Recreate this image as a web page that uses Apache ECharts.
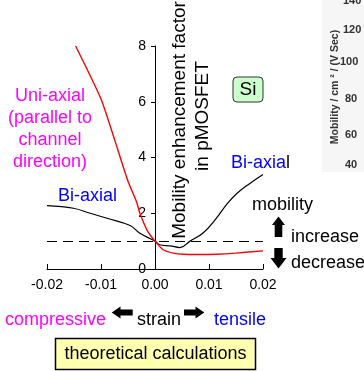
<!DOCTYPE html>
<html>
<head>
<meta charset="utf-8">
<script src="https://cdn.jsdelivr.net/npm/echarts@6/dist/echarts.min.js"></script>
<style>
  html, body { margin: 0; padding: 0; background: #fff; }
  #chart { width: 364px; height: 371px; }
</style>
</head>
<body>
<div id="chart"></div>
<script>
// Strain values (x) and mobility enhancement factors (y) for each stress type
const uniStrain   = [-0.0147, -0.0100, -0.0075, -0.0050, -0.0034, -0.0028, -0.0015, -0.0009, 0.0000, 0.0015, 0.0034, 0.0052, 0.0080, 0.0114, 0.0150, 0.0200];
const uniFactor   = [8.00, 6.10, 4.65, 3.15, 2.40, 2.00, 1.40, 1.22, 1.00, 0.69, 0.57, 0.53, 0.52, 0.53, 0.57, 0.65];

const biStrain    = [-0.0200, -0.0151, -0.0120, -0.0089, -0.0046, -0.0028, 0.0000, 0.0009, 0.0028, 0.0046, 0.0065, 0.0089, 0.0114, 0.0132, 0.0151, 0.0175, 0.0200];
const biFactor    = [2.27, 2.18, 2.00, 1.82, 1.56, 1.28, 1.00, 0.87, 0.83, 0.77, 1.00, 1.29, 1.83, 2.30, 2.70, 3.06, 3.39];

// Reference level: no enhancement
const unityLevel  = 1;

// Axis ranges
const strainRange = [-0.02, 0.02];
const factorRange = [0, 8];

// Tick labels of the neighbouring mobility panel at the right edge
const sideTicks   = ['140', '120', '100', '80', '60', '40'];

const FONT = '"Liberation Sans", Arial, sans-serif';
const f = (size, bold) => (bold ? 'bold ' : '') + size + 'px ' + FONT;

const zip = (xs, ys) => xs.map((x, i) => [x, ys[i]]);

function txt(text, x, y, opts) {
  opts = opts || {};
  return {
    type: 'text', x: x, y: y, rotation: opts.rotation || 0, z: 10,
    style: {
      text: text,
      font: opts.font || f(18),
      fill: opts.fill || '#000',
      textAlign: opts.align || 'left',
      textVerticalAlign: 'middle',
      lineHeight: opts.lineHeight
    }
  };
}

const GRID = { left: 47, right: 101, top: 46, bottom: 102 };
const plotWidth = 364 - GRID.left - GRID.right;
// the vertical axis stands at zero strain, inside the plot
const yAxisShift = plotWidth * (0 - strainRange[0]) / (strainRange[1] - strainRange[0]);

const chart = echarts.init(document.getElementById('chart'));

const sideTickPos = [[343, 1], [343, 30], [340, 62], [345, 99], [345, 135], [345, 165]];

const graphic = [
  // faint panel of the neighbouring figure
  { type: 'rect', shape: { x: 322, y: 0, width: 42, height: 172 }, style: { fill: '#f6f6f6' }, z: 0 },
  txt('Mobility / cm ² / (V Sec)', 335, 87, { rotation: Math.PI / 2, font: f(10.5, true), fill: '#333', align: 'center' }),

  // y axis title
  txt('Mobility enhancement factor', 180, 120, { rotation: Math.PI / 2, font: f(19), align: 'center' }),
  txt('in pMOSFET', 203, 116, { rotation: Math.PI / 2, font: f(19), align: 'center' }),

  // series annotations
  txt('Uni-axial\n(parallel to\nchannel\ndirection)', 50, 129, { fill: '#ff00ff', align: 'center', lineHeight: 21.7 }),
  txt('Bi-axial', 58, 196, { fill: '#0000ff' }),
  txt('Bi-axia', 231, 163, { fill: '#0000ff' }),
  txt('l', 286, 163, { fill: '#000' }),

  // material tag
  { type: 'rect', shape: { x: 233, y: 77, width: 30, height: 25, r: 4 }, style: { fill: '#ccffcc', stroke: '#333', lineWidth: 1 }, z: 9 },
  txt('Si', 248, 90, { font: f(19), align: 'center' }),

  // mobility increase / decrease legend
  txt('mobility', 252, 205),
  txt('increase', 291, 237),
  txt('decrease', 291, 263),
  { type: 'polygon', z: 10, shape: { points: [[278.5, 216.5], [285, 225], [282.3, 225], [282.3, 237], [274.7, 237], [274.7, 225], [272, 225]] }, style: { fill: '#000' } },
  { type: 'polygon', z: 10, shape: { points: [[274.3, 248], [282.7, 248], [282.7, 258], [286.5, 258], [278.5, 268.5], [270.5, 258], [274.3, 258]] }, style: { fill: '#000' } },

  // strain direction
  txt('compressive', 5, 320, { fill: '#ff00ff' }),
  txt('strain', 137, 320),
  txt('tensile', 214, 320, { fill: '#0000ff' }),
  { type: 'polygon', z: 10, shape: { points: [[111.7, 312.5], [120.5, 306.5], [120.5, 309.5], [132.7, 309.5], [132.7, 315.5], [120.5, 315.5], [120.5, 318.5]] }, style: { fill: '#000' } },
  { type: 'polygon', z: 10, shape: { points: [[204.3, 312.5], [195.5, 306.5], [195.5, 309.5], [184, 309.5], [184, 315.5], [195.5, 315.5], [195.5, 318.5]] }, style: { fill: '#000' } },

  // caption box
  { type: 'rect', shape: { x: 55.5, y: 338.5, width: 200, height: 31 }, style: { fill: '#ffffb0', stroke: '#000', lineWidth: 1.5 }, z: 9 },
  txt('theoretical calculations', 155.5, 354, { align: 'center' })
];

sideTicks.forEach((t, i) => {
  graphic.push(txt(t, sideTickPos[i][0], sideTickPos[i][1], { font: f(11, true), fill: '#333' }));
});

chart.setOption({
  animation: false,
  grid: Object.assign({ containLabel: false }, GRID),
  xAxis: {
    type: 'value',
    min: strainRange[0], max: strainRange[1], interval: 0.01,
    axisLine: { onZero: false, lineStyle: { color: '#000', width: 1 } },
    axisTick: { inside: true, length: 5, lineStyle: { color: '#000' } },
    axisLabel: { color: '#000', fontSize: 14, fontFamily: FONT, margin: 9, formatter: v => v.toFixed(2) },
    splitLine: { show: false }
  },
  yAxis: {
    type: 'value',
    min: factorRange[0], max: factorRange[1], interval: 2,
    offset: -yAxisShift,
    axisLine: { show: true, onZero: false, lineStyle: { color: '#000', width: 1 } },
    axisTick: { show: true, inside: false, length: 4, lineStyle: { color: '#000' } },
    axisLabel: { color: '#000', fontSize: 14, fontFamily: FONT, margin: 9 },
    splitLine: { show: false }
  },
  series: [
    {
      name: 'Bi-axial', type: 'line', data: zip(biStrain, biFactor),
      showSymbol: false, symbol: 'none', smooth: 0.4,
      lineStyle: { color: '#000', width: 1.2 }, z: 3,
      markLine: {
        silent: true, symbol: 'none', label: { show: false },
        lineStyle: { color: '#000', width: 1, type: [10, 6] },
        data: [{ yAxis: unityLevel }]
      }
    },
    {
      name: 'Uni-axial', type: 'line', data: zip(uniStrain, uniFactor),
      showSymbol: false, symbol: 'none', smooth: 0.2,
      lineStyle: { color: '#ff0000', width: 1.4 }, z: 4
    }
  ],
  graphic: graphic
});
</script>
</body>
</html>
